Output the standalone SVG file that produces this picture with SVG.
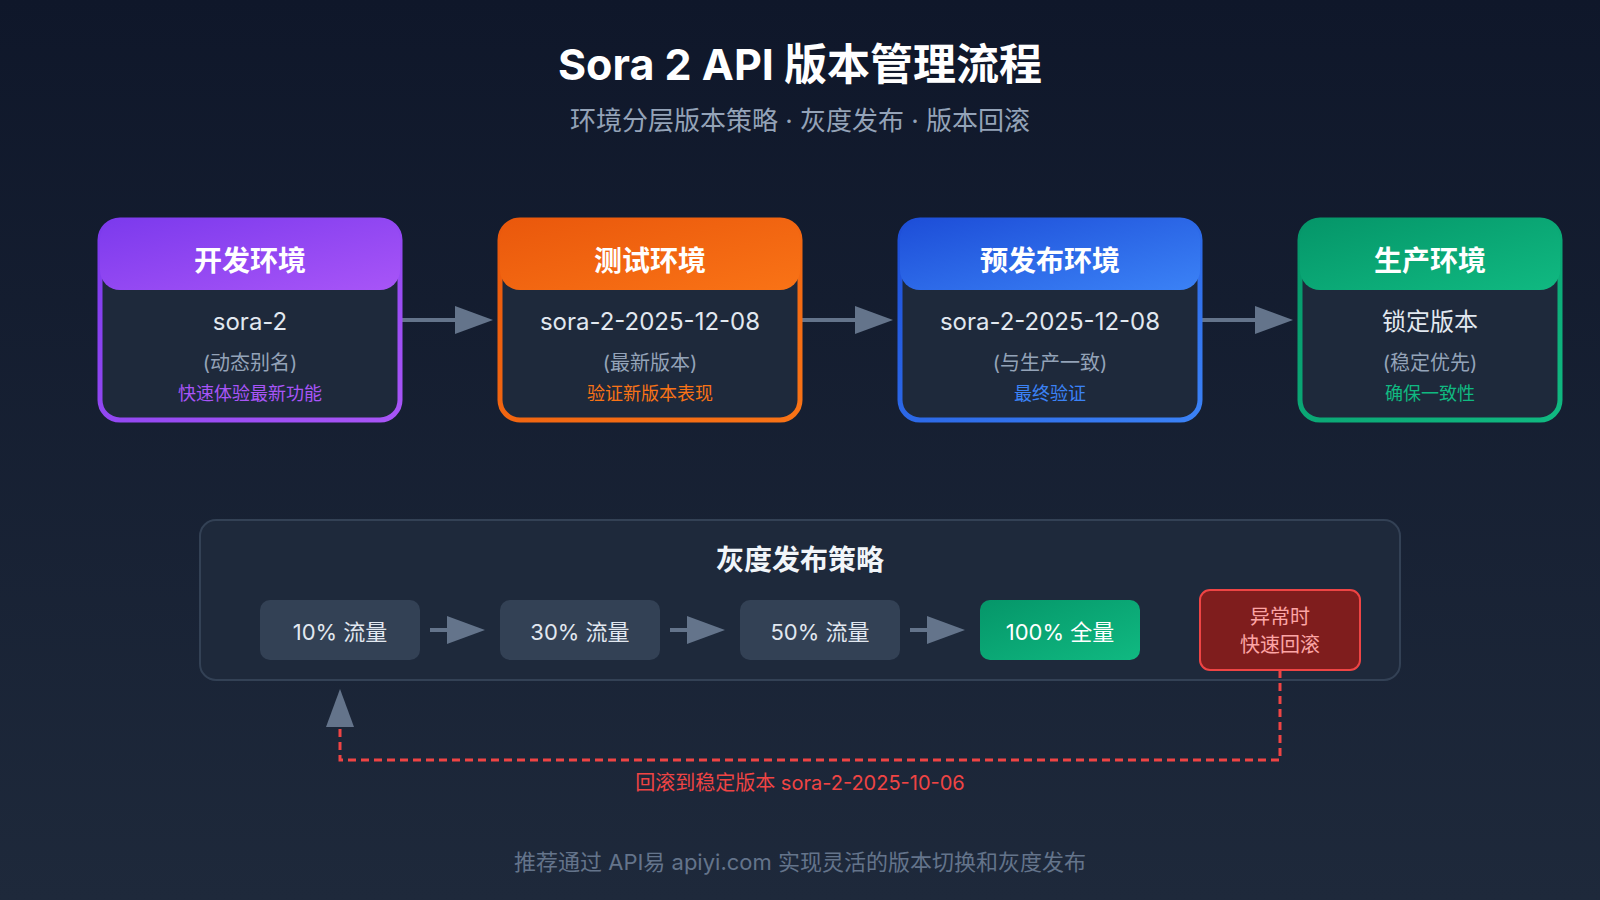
<svg xmlns="http://www.w3.org/2000/svg" width="1600" height="900" viewBox="0 0 1600 900">
  <defs>
    <linearGradient id="bg" x1="0" y1="0" x2="0" y2="1">
      <stop offset="0" stop-color="#0f172a"/>
      <stop offset="1" stop-color="#1e293b"/>
    </linearGradient>
    <linearGradient id="gPurple" x1="0" y1="0" x2="1" y2="1">
      <stop offset="0" stop-color="#7c3aed"/>
      <stop offset="1" stop-color="#a855f7"/>
    </linearGradient>
    <linearGradient id="gOrange" x1="0" y1="0" x2="1" y2="1">
      <stop offset="0" stop-color="#ea580c"/>
      <stop offset="1" stop-color="#f97316"/>
    </linearGradient>
    <linearGradient id="gBlue" x1="0" y1="0" x2="1" y2="1">
      <stop offset="0" stop-color="#1d4ed8"/>
      <stop offset="1" stop-color="#3b82f6"/>
    </linearGradient>
    <linearGradient id="gGreen" x1="0" y1="0" x2="1" y2="1">
      <stop offset="0" stop-color="#059669"/>
      <stop offset="1" stop-color="#10b981"/>
    </linearGradient>
    <marker id="arrow" markerUnits="userSpaceOnUse" markerWidth="38" markerHeight="28" refX="0" refY="14" orient="auto">
      <path d="M0,0 L38,14 L0,28 Z" fill="#64748b"/>
    </marker>
    <style>
      text { font-family: "Inter", "Noto Sans CJK SC", sans-serif; text-anchor: middle; }
      .title { font-size: 43px; font-weight: 700; fill: #ffffff; }
      .subtitle { font-size: 26px; fill: #94a3b8; }
      .body { fill: #1e293b; stroke-width: 5; }
      .head { font-size: 28px; font-weight: 700; fill: #ffffff; }
      .l1 { font-size: 24px; fill: #e2e8f0; }
      .l2 { font-size: 20px; fill: #94a3b8; }
      .l3 { font-size: 18px; }
      .flow { stroke: #64748b; stroke-width: 4; fill: none; marker-end: url(#arrow); }
      .step { fill: #334155; }
      .stepText { font-size: 22px; fill: #e2e8f0; }
      .panel { fill: #1e293b; stroke: #334155; stroke-width: 2; }
      .panelTitle { font-size: 28px; font-weight: 700; fill: #f1f5f9; }
      .rollback { stroke: #ef4444; stroke-width: 3; stroke-dasharray: 8 5; fill: none; marker-end: url(#arrow); }
      .rbText { font-size: 20px; fill: #fca5a5; }
      .red { font-size: 20px; fill: #ef4444; }
      .footer { font-size: 22px; fill: #64748b; }
    </style>
  </defs>

  <rect x="0" y="0" width="1600" height="900" fill="url(#bg)"/>

  <g id="header">
    <text class="title" x="800" y="80">Sora 2 API 版本管理流程</text>
    <text class="subtitle" x="800" y="130">环境分层版本策略 · 灰度发布 · 版本回滚</text>
  </g>

  <g id="gray-panel">
    <rect class="panel" x="200" y="520" width="1200" height="160" rx="16"/>
    <text class="panelTitle" x="800" y="570">灰度发布策略</text>
  </g>

  <g id="connectors">
    <line class="flow" x1="400" y1="320" x2="455" y2="320"/>
    <line class="flow" x1="800" y1="320" x2="855" y2="320"/>
    <line class="flow" x1="1200" y1="320" x2="1255" y2="320"/>
    <line class="flow" x1="430" y1="630" x2="447" y2="630"/>
    <line class="flow" x1="670" y1="630" x2="687" y2="630"/>
    <line class="flow" x1="910" y1="630" x2="927" y2="630"/>
    <path class="rollback" d="M1280,670 V760 H340 V727"/>
    <text class="red" x="800" y="790">回滚到稳定版本 sora-2-2025-10-06</text>
  </g>

  <g id="env-dev">
    <rect class="body" x="100" y="220" width="300" height="200" rx="20" stroke="url(#gPurple)"/>
    <rect x="100" y="220" width="300" height="70" rx="20" fill="url(#gPurple)"/>
    <text class="head" x="250" y="271">开发环境</text>
    <text class="l1" x="250" y="330">sora-2</text>
    <text class="l2" x="250" y="370">(动态别名)</text>
    <text class="l3" x="250" y="400" fill="#a855f7">快速体验最新功能</text>
  </g>

  <g id="env-test">
    <rect class="body" x="500" y="220" width="300" height="200" rx="20" stroke="url(#gOrange)"/>
    <rect x="500" y="220" width="300" height="70" rx="20" fill="url(#gOrange)"/>
    <text class="head" x="650" y="271">测试环境</text>
    <text class="l1" x="650" y="330">sora-2-2025-12-08</text>
    <text class="l2" x="650" y="370">(最新版本)</text>
    <text class="l3" x="650" y="400" fill="#f97316">验证新版本表现</text>
  </g>

  <g id="env-staging">
    <rect class="body" x="900" y="220" width="300" height="200" rx="20" stroke="url(#gBlue)"/>
    <rect x="900" y="220" width="300" height="70" rx="20" fill="url(#gBlue)"/>
    <text class="head" x="1050" y="271">预发布环境</text>
    <text class="l1" x="1050" y="330">sora-2-2025-12-08</text>
    <text class="l2" x="1050" y="370">(与生产一致)</text>
    <text class="l3" x="1050" y="400" fill="#3b82f6">最终验证</text>
  </g>

  <g id="env-prod">
    <rect class="body" x="1300" y="220" width="260" height="200" rx="20" stroke="url(#gGreen)"/>
    <rect x="1300" y="220" width="260" height="70" rx="20" fill="url(#gGreen)"/>
    <text class="head" x="1430" y="271">生产环境</text>
    <text class="l1" x="1430" y="330">锁定版本</text>
    <text class="l2" x="1430" y="370">(稳定优先)</text>
    <text class="l3" x="1430" y="400" fill="#10b981">确保一致性</text>
  </g>

  <g id="step-10">
    <rect class="step" x="260" y="600" width="160" height="60" rx="10"/>
    <text class="stepText" x="340" y="640">10% 流量</text>
  </g>
  <g id="step-30">
    <rect class="step" x="500" y="600" width="160" height="60" rx="10"/>
    <text class="stepText" x="580" y="640">30% 流量</text>
  </g>
  <g id="step-50">
    <rect class="step" x="740" y="600" width="160" height="60" rx="10"/>
    <text class="stepText" x="820" y="640">50% 流量</text>
  </g>
  <g id="step-100">
    <rect x="980" y="600" width="160" height="60" rx="10" fill="url(#gGreen)"/>
    <text class="stepText" x="1060" y="640" style="fill:#ffffff">100% 全量</text>
  </g>
  <g id="rollback-box">
    <rect x="1200" y="590" width="160" height="80" rx="10" fill="#7f1d1d" stroke="#ef4444" stroke-width="2"/>
    <text class="rbText" x="1280" y="624">异常时</text>
    <text class="rbText" x="1280" y="652">快速回滚</text>
  </g>

  <g id="footer">
    <text class="footer" x="800" y="870">推荐通过 API易 apiyi.com 实现灵活的版本切换和灰度发布</text>
  </g>
</svg>
